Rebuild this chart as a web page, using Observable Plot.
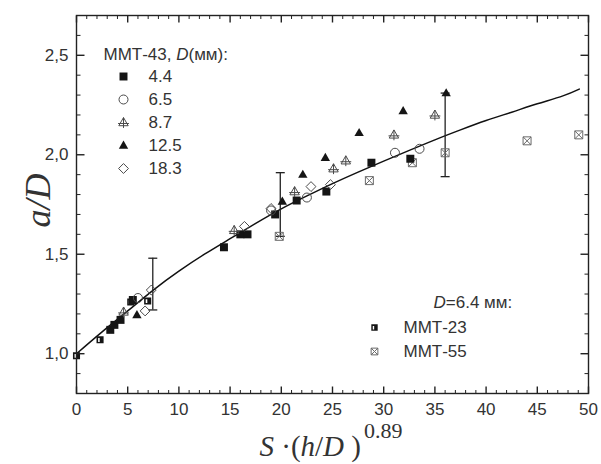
<!DOCTYPE html>
<html><head><meta charset="utf-8">
<script src="https://cdn.jsdelivr.net/npm/d3@7"></script>
<script src="https://cdn.jsdelivr.net/npm/@observablehq/plot@0.6"></script>
<style>body{margin:0;background:#fff}svg{display:block}</style>
</head><body><div id="chart"></div>
<script>
// ---------- data ----------
const xTicks = [0, 5, 10, 15, 20, 25, 30, 35, 40, 45, 50];
const xTickLabels = ["0", "5", "10", "15", "20", "25", "30", "35", "40", "45", "50"];
const xMinor = [1,2,3,4,6,7,8,9,11,12,13,14,16,17,18,19,21,22,23,24,26,27,28,29,31,32,33,34,36,37,38,39,41,42,43,44,46,47,48,49];
const yTicks = [1.0, 1.5, 2.0, 2.5];
const yTickLabels = ["1,0", "1,5", "2,0", "2,5"];
const yMinor = [0.9, 1.1, 1.2, 1.3, 1.4, 1.6, 1.7, 1.8, 1.9, 2.1, 2.2, 2.3, 2.4, 2.6];

// ММТ-43 series, D (мм)
const s44x  = [3.3, 3.7, 4.3, 5.5, 14.4, 16.0, 16.7, 19.4, 21.5, 24.4, 28.8, 32.6];
const s44y  = [1.12, 1.145, 1.17, 1.27, 1.535, 1.60, 1.60, 1.70, 1.77, 1.815, 1.96, 1.98];
const s65x  = [6.0, 19.0, 22.5, 31.1, 33.5];
const s65y  = [1.28, 1.72, 1.785, 2.01, 2.03];
const s87x  = [4.6, 15.4, 21.3, 25.1, 26.3, 31.0, 35.0];
const s87y  = [1.21, 1.62, 1.815, 1.93, 1.97, 2.10, 2.20];
const s125x = [5.9, 20.1, 22.1, 24.3, 27.6, 31.9, 36.1];
const s125y = [1.195, 1.765, 1.90, 1.985, 2.11, 2.22, 2.31];
const s183x = [6.7, 7.3, 16.4, 19.0, 22.9, 24.8];
const s183y = [1.215, 1.32, 1.64, 1.73, 1.84, 1.85];
// D = 6.4 мм
const m23x = [0.0, 2.3, 5.3, 6.95];
const m23y = [0.99, 1.07, 1.26, 1.265];
const m55x = [19.8, 28.6, 32.8, 36.0, 44.0, 49.05];
const m55y = [1.59, 1.87, 1.96, 2.01, 2.07, 2.10];

// error bars
const errX  = [7.45, 19.9, 36.0];
const errLo = [1.22, 1.59, 1.89];
const errHi = [1.48, 1.91, 2.31];

// fitted curve
const curveX = [0, 2.5, 5, 7.5, 10, 12.5, 15, 17.5, 20, 22.5, 25, 27.5, 30, 32.5, 35, 37.5, 40, 42.5, 45, 47.5, 49.1];
const curveY = [1.0, 1.11, 1.215, 1.32, 1.415, 1.50, 1.578, 1.655, 1.728, 1.793, 1.855, 1.913, 1.968, 2.022, 2.075, 2.125, 2.172, 2.214, 2.256, 2.296, 2.33];

const legendLabels = ["4.4", "6.5", "8.7", "12.5", "18.3"];
const legend2Labels = ["ММТ-23", "ММТ-55"];

// ---------- helpers ----------
const zip = (xs, ys) => xs.map((x, i) => ({x, y: ys[i]}));
const DARK = "#151515", GRAY = "#4a4a4a", LIGHT = "#6a6a6a", TXT = "#333";
const SANS = "Liberation Sans", SERIF = "Liberation Serif";

const seg = (x1, y1, x2, y2) => ({draw(c) { c.moveTo(x1, y1); c.lineTo(x2, y2); }});
const symCap = seg(-4.5, 0, 4.5, 0);
const symSquare = {draw(c, size) { const s = Math.sqrt(size) / 2; c.rect(-s, -s, 2 * s, 2 * s); }};
const symSquareX = {draw(c, size) { const s = Math.sqrt(size) / 2;
  c.rect(-s, -s, 2 * s, 2 * s); c.moveTo(-s, -s); c.lineTo(s, s); c.moveTo(s, -s); c.lineTo(-s, s); }};
const symSquareHole = {draw(c, size) { const s = Math.sqrt(size) / 2;
  c.moveTo(-s, -s); c.lineTo(s, -s); c.lineTo(s, s); c.lineTo(-s, s); c.closePath();
  c.moveTo(-s * 0.55, -s * 0.5); c.lineTo(-s * 0.55, s * 0.6); c.lineTo(-s * 0.1, s * 0.6); c.lineTo(-s * 0.1, -s * 0.5); c.closePath(); }};
const symTri = {draw(c, size) { const s = Math.sqrt(size) * 0.62;
  c.moveTo(0, -s); c.lineTo(s * 0.95, s * 0.65); c.lineTo(-s * 0.95, s * 0.65); c.closePath(); }};
const symTriOpen = {draw(c, size) { const s = Math.sqrt(size) * 0.62;
  c.moveTo(0, -s); c.lineTo(s * 0.95, s * 0.65); c.lineTo(-s * 0.95, s * 0.65); c.closePath();
  c.moveTo(0, -s); c.lineTo(0, s * 1.1); c.moveTo(-s * 1.1, s * 0.2); c.lineTo(s * 1.1, s * 0.2); }};
const symDiamond = {draw(c, size) { const s = Math.sqrt(size) * 0.62;
  c.moveTo(0, -s); c.lineTo(s, 0); c.lineTo(0, s); c.lineTo(-s, 0); c.closePath(); }};

const styles = [
  {symbol: symSquare, fill: DARK, stroke: "none"},
  {symbol: "circle", fill: "none", stroke: GRAY, strokeWidth: 1},
  {symbol: symTriOpen, fill: "none", stroke: GRAY, strokeWidth: 1},
  {symbol: symTri, fill: DARK, stroke: "none"},
  {symbol: symDiamond, fill: "none", stroke: GRAY, strokeWidth: 1}
];
const styleM23 = {symbol: symSquareHole, fill: DARK, stroke: "none"};
const styleM55 = {symbol: symSquareX, fill: "none", stroke: LIGHT, strokeWidth: 1};

const ctx = document.createElement("canvas").getContext("2d");
function label(t, dx, dy, opts = {}) {
  return Plot.text([t], {text: d => d, frameAnchor: "top-left", dx, dy, textAnchor: "start", lineAnchor: "middle",
    fontSize: 17, fontFamily: SANS, fill: TXT, ...opts});
}
function rich(parts, dx, dy, size) {
  let off = 0; const marks = [];
  for (const p of parts) {
    const fs = p.size || size, fam = p.family || SANS, st = p.italic ? "italic" : "normal";
    ctx.font = `${st} ${fs}px "${fam}"`;
    marks.push(label(p.t, dx + off, dy + (p.dy || 0), {fontSize: fs, fontFamily: fam, fontStyle: st}));
    off += ctx.measureText(p.t).width + (p.pad || 0);
  }
  return marks;
}

const series = [zip(s44x, s44y), zip(s65x, s65y), zip(s87x, s87y), zip(s125x, s125y), zip(s183x, s183y)];
const errs = errX.map((x, i) => ({x, lo: errLo[i], hi: errHi[i]}));
const curve = zip(curveX, curveY);

const tickStyle = {stroke: "#222", strokeWidth: 1, fill: "none"};
const marks = [
  // curve and error bars
  Plot.line(curve, {x: "x", y: "y", curve: "natural", stroke: "#111", strokeWidth: 1.5}),
  Plot.ruleX(errs, {x: "x", y1: "lo", y2: "hi", stroke: "#222", strokeWidth: 1.3}),
  Plot.dot(errs, {x: "x", y: "lo", symbol: symCap, ...tickStyle, strokeWidth: 1.3}),
  Plot.dot(errs, {x: "x", y: "hi", symbol: symCap, ...tickStyle, strokeWidth: 1.3}),
  // data
  Plot.dot(zip(m55x, m55y), {x: "x", y: "y", r: 4.5, ...styleM55}),
  Plot.dot(zip(m23x, m23y), {x: "x", y: "y", r: 4, ...styleM23}),
  ...series.map((d, i) => Plot.dot(d, {x: "x", y: "y", r: 4.5, ...styles[i]})),
  // frame & inward ticks
  Plot.frame({stroke: "#222", strokeWidth: 1.4}),
  Plot.dot(xTicks, {x: d => d, frameAnchor: "bottom", symbol: seg(0, 0, 0, -7), ...tickStyle, strokeWidth: 1.4}),
  Plot.dot(xMinor, {x: d => d, frameAnchor: "bottom", symbol: seg(0, 0, 0, -3.5), ...tickStyle}),
  Plot.dot(xTicks, {x: d => d, frameAnchor: "top", symbol: seg(0, 0, 0, 7), ...tickStyle, strokeWidth: 1.4}),
  Plot.dot(xMinor, {x: d => d, frameAnchor: "top", symbol: seg(0, 0, 0, 3.5), ...tickStyle}),
  Plot.dot(yTicks, {y: d => d, frameAnchor: "left", symbol: seg(0, 0, 8, 0), ...tickStyle, strokeWidth: 1.4}),
  Plot.dot(yMinor, {y: d => d, frameAnchor: "left", symbol: seg(0, 0, 4, 0), ...tickStyle}),
  Plot.dot(yTicks, {y: d => d, frameAnchor: "right", symbol: seg(0, 0, -8, 0), ...tickStyle, strokeWidth: 1.4}),
  Plot.dot(yMinor, {y: d => d, frameAnchor: "right", symbol: seg(0, 0, -4, 0), ...tickStyle}),
  // tick labels
  Plot.text(xTicks, {x: d => d, frameAnchor: "bottom", dy: 16, lineAnchor: "middle", textAnchor: "middle",
    text: (d, i) => xTickLabels[i], fontSize: 17, fontFamily: SANS, fill: TXT}),
  Plot.text(yTicks, {y: d => d, frameAnchor: "left", dx: -8, textAnchor: "end", lineAnchor: "middle",
    text: (d, i) => yTickLabels[i], fontSize: 17, fontFamily: SANS, fill: TXT}),
  // axis titles
  Plot.text(["a/D"], {text: d => d, frameAnchor: "left", dx: -38, dy: -4, rotate: -90,
    textAnchor: "middle", lineAnchor: "middle",
    fontSize: 36, fontFamily: SERIF, fontStyle: "italic", fill: TXT}),
  ...rich([
    {t: "S", italic: true, family: SERIF},
    {t: " ·(", family: SERIF},
    {t: "h", italic: true, family: SERIF},
    {t: "/", family: SERIF},
    {t: "D", italic: true, family: SERIF},
    {t: " )", family: SERIF, pad: 3},
    {t: "0.89", family: SERIF, size: 22, dy: -16}
  ], 183, 431, 29),
  // legend 1
  ...rich([{t: "ММТ-43, "}, {t: "D", italic: true}, {t: "(мм):"}], 27, 39, 17),
  ...legendLabels.map((l, i) => Plot.dot([l], {frameAnchor: "top-left", dx: 47, dy: 61 + 23 * i, r: 4.5, ...styles[i]})),
  ...legendLabels.map((l, i) => label(l, 72, 61 + 23 * i)),
  // legend 2
  ...rich([{t: "D", italic: true}, {t: "=6.4 мм:"}], 357, 287, 17),
  Plot.dot([legend2Labels[0]], {frameAnchor: "top-left", dx: 298, dy: 312, r: 3.6, ...styleM23}),
  Plot.dot([legend2Labels[1]], {frameAnchor: "top-left", dx: 298, dy: 336, r: 3.8, ...styleM55}),
  label(legend2Labels[0], 327, 312),
  label(legend2Labels[1], 327, 336)
];

const chart = Plot.plot({
  width: 601, height: 464,
  marginLeft: 76, marginRight: 13, marginTop: 15, marginBottom: 71,
  x: {domain: [0, 50], axis: null},
  y: {domain: [0.8, 2.7], axis: null},
  style: {background: "#fff", overflow: "visible"},
  marks
});
document.getElementById("chart").append(chart);
</script></body></html>
